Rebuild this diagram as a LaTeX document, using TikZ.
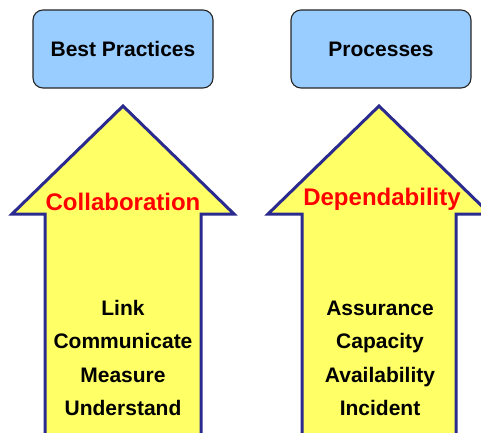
\documentclass[tikz,border=0pt]{standalone}
\usepackage{fontspec}
\setmainfont{Liberation Sans}
\usetikzlibrary{calc}
\definecolor{boxblue}{HTML}{99CCFF}
\definecolor{upyellow}{HTML}{FFFF66}
\definecolor{upnavy}{HTML}{2B2B8F}
\tikzset{
	topbox/.style={draw=black!85, fill=boxblue, line width=1.1pt, rounded corners=10pt},
	uparrow/.style={draw=upnavy, fill=upyellow, line width=3pt, line join=miter},
	boxtext/.style={anchor=base, font=\fontsize{21}{25}\bfseries},
	headtext/.style={anchor=base, text=red, font=\fontsize{24}{28}\bfseries},
	itemtext/.style={anchor=base, font=\fontsize{21}{25}\bfseries}
}

\begin{document}
\begin{tikzpicture}[x=1pt, y=1pt]
			%%%%% START %%%%%
			\useasboundingbox (0, 0) rectangle (481, 432);
			\clip (0, 0) rectangle (481, 432);
			
			\draw[topbox] (33, 344) rectangle (213, 422);
			\node[boxtext] (best) at (123, 375) {Best Practices};
			
			\draw[topbox] (291, 344) rectangle (471, 422);
			\node[boxtext] (proc) at (381, 375) {Processes};
			
			\draw[uparrow] (45, -20) -- (45, 218) -- (12, 218) -- (123, 326)
				-- (234, 218) -- (201, 218) -- (201, -20) -- cycle;
			\node[headtext] (collab) at (123, 222) {Collaboration};
			
			\draw[uparrow] (302, -20) -- (302, 218) -- (268, 218) -- (379, 326)
				-- (490, 218) -- (456, 218) -- (456, -20) -- cycle;
			\node[headtext] (depend) at (382, 227) {Dependability};
			
			\node[itemtext] (link) at (123, 117) {Link};
			\node[itemtext] (comm) at (123, 84) {Communicate};
			\node[itemtext] (meas) at (123, 50) {Measure};
			\node[itemtext] (under) at (123, 17) {Understand};
			
			\node[itemtext] (assur) at (380, 117) {Assurance};
			\node[itemtext] (capa) at (380, 84) {Capacity};
			\node[itemtext] (avail) at (380, 50) {Availability};
			\node[itemtext] (incid) at (380, 17) {Incident};
			%%%%% END %%%%%
		\end{tikzpicture}
\end{document}
